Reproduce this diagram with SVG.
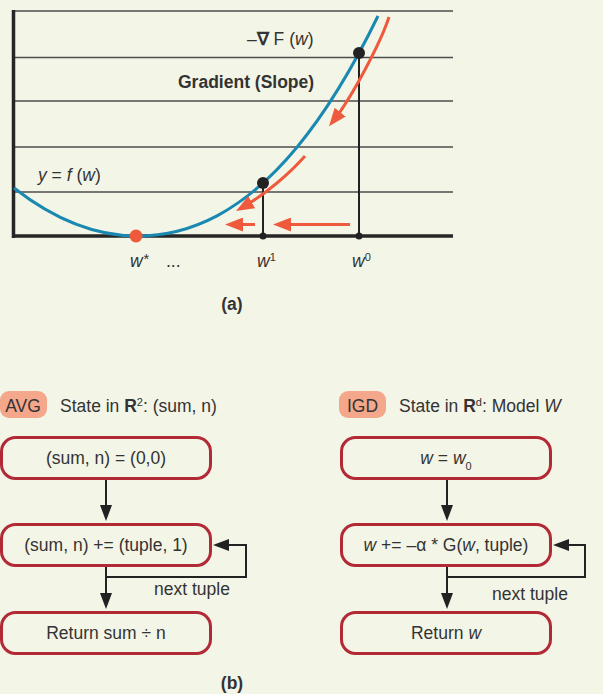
<svg xmlns="http://www.w3.org/2000/svg" width="603" height="694" viewBox="0 0 603 694">
<style>
.t{font-family:"Liberation Sans",Arial,sans-serif;font-size:17.5px;fill:#333}
.b{font-weight:bold}
.i{font-style:italic}
.sup{font-size:11px}
.ast{font-size:15px}
.grid{stroke:#4d4d4d;stroke-width:1.3}
.axis{stroke:#262626;stroke-width:3.5}
.stem{stroke:#222;stroke-width:2}
.red{stroke:#ef5a3d;stroke-width:3;fill:none;marker-end:url(#rh)}
.node rect{fill:none;stroke:#b22a36;stroke-width:3}
.pill{fill:#f4a78b}
.conn{stroke:#222;stroke-width:2;fill:none}
.arr{marker-end:url(#bh)}
</style>
<defs>
<marker id="rh" viewBox="0 0 18 14" refX="10" refY="7" markerWidth="18" markerHeight="14" markerUnits="userSpaceOnUse" orient="auto">
<path d="M0,0 L18,7 L0,14 z" fill="#ef5a3d"/>
</marker>
<marker id="bh" viewBox="0 0 16 12" refX="8" refY="6" markerWidth="16" markerHeight="12" markerUnits="userSpaceOnUse" orient="auto">
<path d="M0,0 L16,6 L0,12 z" fill="#222"/>
</marker>
</defs>
<rect width="603" height="694" fill="#f3f5e7"/>

<g id="chart">
<line class="grid" x1="12" y1="11" x2="453" y2="11" stroke-width="1.8"/>
<line class="grid" x1="15" y1="57.5" x2="453" y2="57.5"/>
<line class="grid" x1="15" y1="101" x2="453" y2="101"/>
<line class="grid" x1="15" y1="147" x2="453" y2="147"/>
<line class="grid" x1="15" y1="192" x2="453" y2="192"/>
<line class="axis" x1="13.5" y1="10" x2="13.5" y2="238"/>
<line class="axis" x1="12" y1="236" x2="453" y2="236"/>
<line class="stem" x1="359" y1="53" x2="359" y2="236"/>
<line class="stem" x1="263" y1="183" x2="263" y2="236"/>
<path d="M14,188 Q75.5,236 137,236 C163.67,236 190.33,229.94 217,215.8 C243.67,201.66 270.33,179.48 297,147.2 C324,114.52 351,71.54 378,16" fill="none" stroke="#1a88b1" stroke-width="3"/>
<path class="red" d="M389,17 C381,42 352,97 334,120"/>
<path class="red" d="M305,156 C290,173 266,194 243,207"/>
<path class="red" d="M350,224.5 H281"/>
<path class="red" d="M255,224.5 H233"/>
<circle cx="359" cy="53" r="6" fill="#222"/>
<circle cx="263" cy="183" r="6" fill="#222"/>
<circle cx="359" cy="236" r="3.5" fill="#222"/>
<circle cx="263" cy="236" r="3.5" fill="#222"/>
<circle cx="136" cy="236" r="6.5" fill="#ef5a3d"/>
<text class="t" x="247" y="45">–<tspan class="b">∇</tspan> F (<tspan class="i">w</tspan>)</text>
<text class="t b" x="178" y="88">Gradient (Slope)</text>
<text class="t" x="38" y="181"><tspan class="i">y</tspan> = <tspan class="i">f</tspan> (<tspan class="i">w</tspan>)</text>
<text class="t" x="130" y="267"><tspan class="i">w</tspan><tspan class="ast i" dy="-3">*</tspan></text>
<text class="t" x="166" y="267">...</text>
<text class="t" x="257" y="267"><tspan class="i">w</tspan><tspan class="sup" dy="-6">1</tspan></text>
<text class="t" x="352" y="267"><tspan class="i">w</tspan><tspan class="sup" dy="-6">0</tspan></text>
<text class="t b" x="232" y="310" text-anchor="middle">(a)</text>
</g>

<g id="avg-header">
<rect class="pill" x="0" y="391" width="47" height="27" rx="9"/>
<text class="t" x="23" y="412" text-anchor="middle">AVG</text>
<text class="t" x="60" y="412">State in <tspan class="b">R</tspan><tspan class="sup" dy="-6">2</tspan><tspan dy="6">: (sum, n)</tspan></text>
</g>
<g id="avg-init" class="node">
<rect x="1.5" y="437.5" width="209" height="41" rx="14"/>
<text class="t" x="106" y="464" text-anchor="middle">(sum, n) = (0,0)</text>
</g>
<g id="avg-step" class="node">
<rect x="1.5" y="524.5" width="209" height="41" rx="14"/>
<text class="t" x="106" y="551" text-anchor="middle">(sum, n) += (tuple, 1)</text>
</g>
<g id="avg-return" class="node">
<rect x="1.5" y="612.5" width="209" height="41" rx="14"/>
<text class="t" x="106" y="639" text-anchor="middle">Return sum ÷ n</text>
</g>

<g id="igd-header">
<rect class="pill" x="339" y="391" width="47" height="27" rx="9"/>
<text class="t" x="362.5" y="412" text-anchor="middle">IGD</text>
<text class="t" x="399" y="412">State in <tspan class="b">R</tspan><tspan class="sup" dy="-6">d</tspan><tspan dy="6">: Model </tspan><tspan class="i">W</tspan></text>
</g>
<g id="igd-init" class="node">
<rect x="341.5" y="437.5" width="209" height="41" rx="14"/>
<text class="t" x="446" y="464" text-anchor="middle"><tspan class="i">w</tspan> = <tspan class="i">w</tspan><tspan class="sup" dy="6">0</tspan></text>
</g>
<g id="igd-step" class="node">
<rect x="341.5" y="524.5" width="209" height="41" rx="14"/>
<text class="t" x="446" y="551" text-anchor="middle"><tspan class="i">w</tspan> += –α * G(<tspan class="i">w</tspan>, tuple)</text>
</g>
<g id="igd-return" class="node">
<rect x="341.5" y="612.5" width="209" height="41" rx="14"/>
<text class="t" x="446" y="639" text-anchor="middle">Return <tspan class="i">w</tspan></text>
</g>

<g id="connectors">
<path class="conn arr" d="M106,480 V513"/>
<path class="conn arr" d="M106,567 V601"/>
<path class="conn arr" d="M106,577 H246 V545 H221"/>
<path class="conn arr" d="M447,480 V513"/>
<path class="conn arr" d="M447,567 V601"/>
<path class="conn arr" d="M447,577 H585 V545 H561"/>
</g>
<text class="t" x="154" y="595">next tuple</text>
<text class="t" x="492" y="600">next tuple</text>
<text class="t b" x="232" y="689" text-anchor="middle">(b)</text>
</svg>
